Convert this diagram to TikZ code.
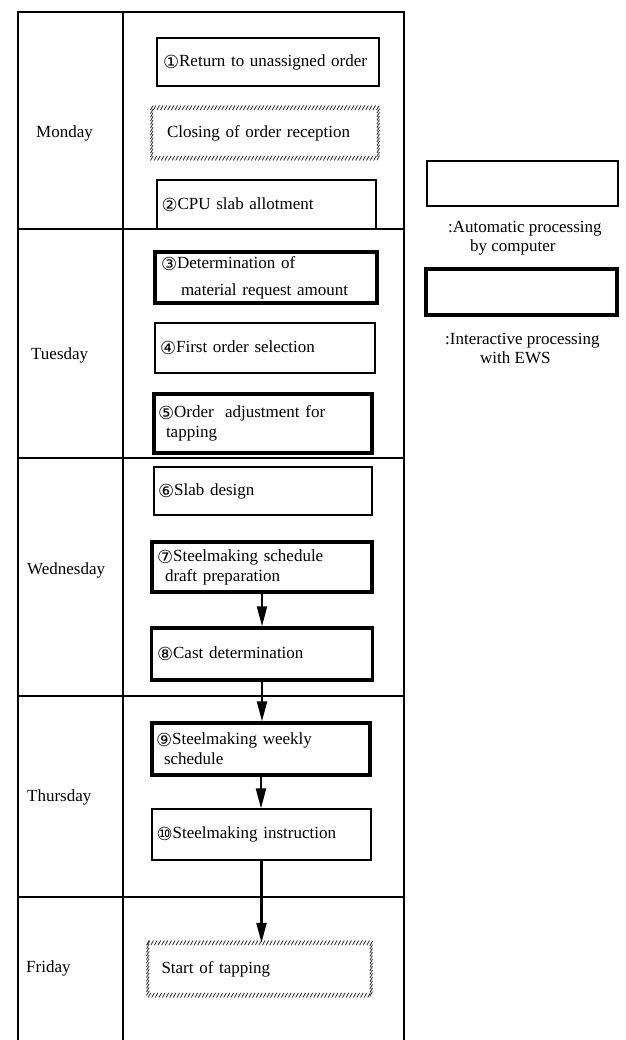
\documentclass[tikz,border=0pt]{standalone}
\usepackage{fontspec}
\setmainfont{Liberation Serif}
\newfontfamily\circfont{DejaVu Sans}
\usetikzlibrary{arrows.meta,decorations.markings}
\newcommand{\cn}[1]{\raisebox{-2pt}{\circfont\fontsize{18}{20}\selectfont #1}}
\begin{document}
\begin{tikzpicture}[x=1pt,y=-1pt,
  font=\fontsize{17}{20}\selectfont,
  frame/.style={line width=1.4pt},
  procbox/.style={inner xsep=4pt, inner ysep=0pt, align=left, text width=210pt},
  thinbox/.style={procbox, draw, line width=1.2pt},
  thickbox/.style={procbox, draw, line width=3.4pt},
  hatchnode/.style={procbox, text width=196pt},
  hatch/.style={decorate, decoration={markings,
     mark=between positions 0 and 1 step 3.6pt with {\pgftransformresetnontranslations
       \draw[line width=0.85pt, black!80] (-1.3pt,-2.3pt) -- (1.3pt,2.3pt);}}},
  day/.style={anchor=west, inner sep=0pt},
  legtext/.style={anchor=north west, align=left, inner sep=0pt, font=\fontsize{17}{19}\selectfont},
  flow/.style={line width=2.2pt, -{Triangle[length=20pt,width=10pt]}}
]
\useasboundingbox (0,0) rectangle (625,1040);

% frame
\draw[frame] (18,1040) -- (18,12) -- (404,12) -- (404,1040);
\draw[frame] (123,12) -- (123,1040);
\foreach \yy in {229,458,696,897} \draw[frame] (18,\yy) -- (404,\yy);

% day labels
\node[day] (mon) at (36,133) {Monday};
\node[day] (tue) at (31,355) {Tuesday};
\node[day] (wed) at (27,570) {Wednesday};
\node[day] (thu) at (27,797) {Thursday};
\node[day] (fri) at (26,968) {Friday};

% Monday
\node[thinbox, minimum width=222pt, minimum height=48pt] (b1) at (268,62) {\cn{①}Return to unassigned order};
\node[hatchnode, minimum width=226pt, minimum height=50pt] (close) at (265,133) {Closing of order reception};
\path[hatch] (close.north west) rectangle (close.south east);
\node[thinbox, minimum width=219pt, minimum height=49pt] (b2) at (266.5,204.5) {\cn{②}CPU slab allotment};

% Tuesday
\node[thickbox, minimum width=222pt, minimum height=51pt] (b3) at (266,277.5) {\cn{③}Determination of\\[7pt]\hspace{20pt}material request amount};
\node[thinbox, minimum width=220pt, minimum height=50pt] (b4) at (265,348) {\cn{④}First order selection};
\node[thickbox, minimum width=218pt, minimum height=59pt] (b5) at (263,423.5) {\cn{⑤}Order\ \ adjustment for\\\hspace{8pt}tapping};

% Wednesday
\node[thinbox, minimum width=218pt, minimum height=48pt] (b6) at (263,491) {\cn{⑥}Slab design};
\node[thickbox, minimum width=220pt, minimum height=50pt] (b7) at (262,567) {\cn{⑦}Steelmaking schedule\\\hspace{8pt}draft preparation};
\node[thickbox, minimum width=221pt, minimum height=52pt] (b8) at (262,654) {\cn{⑧}Cast determination};

% Thursday
\node[thickbox, minimum width=218pt, minimum height=52pt] (b9) at (261,749) {\cn{⑨}Steelmaking weekly\\\hspace{8pt}schedule};
\node[thinbox, minimum width=219pt, minimum height=51pt] (b10) at (261.5,834.5) {\cn{⑩}Steelmaking instruction};

% Friday
\node[hatchnode, minimum width=223pt, minimum height=52pt] (start) at (259.5,969) {Start of tapping};
\path[hatch] (start.north west) rectangle (start.south east);

% arrows
\draw[flow] (b7.south) -- (b7.south |- b8.north);
\draw[flow] (b8.south) -- (b8.south |- b9.north);
\draw[flow] (b9.south) -- (b9.south |- b10.north);
\draw[flow] (b10.south) -- (b10.south |- start.north);

% legend
\node[draw, line width=1.2pt, minimum width=191pt, minimum height=45pt, inner sep=0pt] (lg1) at (522.5,183.5) {};
\node[legtext] (lt1) at (448,221) {:Automatic processing\\\hspace{22pt}by computer};
\node[draw, line width=3.4pt, minimum width=191pt, minimum height=46pt, inner sep=0pt] (lg2) at (521.5,292) {};
\node[legtext] (lt2) at (445,333) {:Interactive processing\\\hspace{35pt}with EWS};
\end{tikzpicture}
\end{document}
